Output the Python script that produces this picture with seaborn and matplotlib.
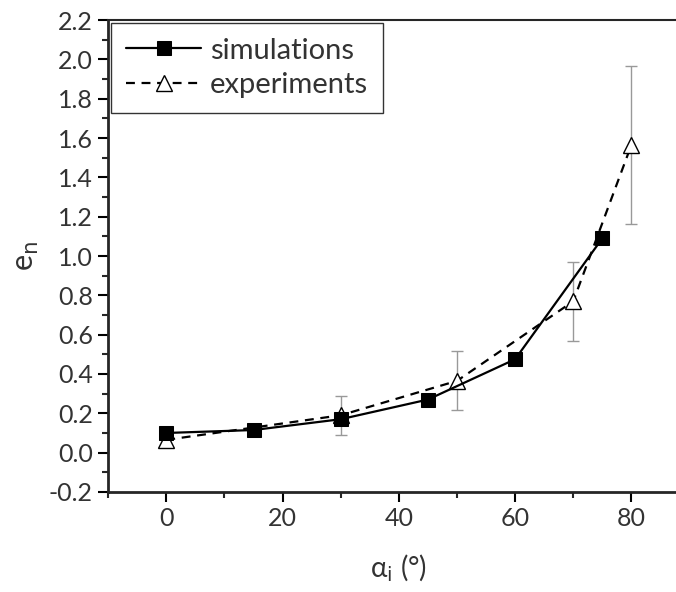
import matplotlib
import matplotlib.pyplot as plt
import pandas as pd
import seaborn as sns
from matplotlib.ticker import MultipleLocator

matplotlib.use("Agg")

# simulated data
sim_angle = [0, 15, 30, 45, 60, 75]
sim_en = [0.10, 0.115, 0.17, 0.27, 0.475, 1.09]

# experimental data with error bars
exp_angle = [0, 30, 50, 70, 80]
exp_en = [0.065, 0.19, 0.365, 0.77, 1.565]
exp_err = [0.03, 0.10, 0.15, 0.20, 0.40]

sim_df = pd.DataFrame({"angle": sim_angle, "en": sim_en})
exp_df = pd.DataFrame({"angle": exp_angle, "en": exp_en, "err": exp_err})

sns.set_theme(style="ticks")
plt.rcParams["font.family"] = ["Lato", "DejaVu Sans"]
plt.rcParams["font.size"] = 17

fig = plt.figure(figsize=(6.76, 5.92), dpi=100)
ax = fig.add_axes([0.160, 0.169, 0.860, 0.797])

ax.errorbar(exp_df["angle"], exp_df["en"], yerr=exp_df["err"], fmt="none",
            ecolor="#999999", elinewidth=1.0, capsize=4, capthick=1.0, zorder=1)

sns.lineplot(data=sim_df, x="angle", y="en", ax=ax, color="black", linewidth=1.6,
             marker="s", markersize=9.5, markerfacecolor="black",
             markeredgecolor="black", label="simulations", zorder=3)
sns.lineplot(data=exp_df, x="angle", y="en", ax=ax, color="black", linewidth=1.6,
             linestyle=(0, (4, 3)), marker="^", markersize=11,
             markerfacecolor="white", markeredgecolor="black",
             markeredgewidth=1.0, label="experiments", zorder=2)

ax.set_xlim(-10, 90)
ax.set_ylim(-0.2, 2.2)
ax.xaxis.set_major_locator(MultipleLocator(20))
ax.xaxis.set_minor_locator(MultipleLocator(10))
ax.yaxis.set_minor_locator(MultipleLocator(0.1))
ax.set_yticks([round(-0.2 + 0.2 * i, 1) for i in range(13)])
ax.set_yticklabels([f"{-0.2 + 0.2 * i:.1f}" for i in range(13)])

ax.tick_params(which="major", direction="out", length=7, width=1.5,
               labelsize=18, colors="black", labelcolor="#333333", pad=4)
ax.tick_params(which="minor", direction="out", length=4, width=1.5)
ax.tick_params(top=False, right=False, which="both")

for side in ["left", "bottom"]:
    ax.spines[side].set_linewidth(2.0)
ax.spines["top"].set_linewidth(1.5)
ax.spines["right"].set_linewidth(1.5)

ax.set_xlabel(r"α$_{\rm i}$ (°)", fontsize=20, color="#333333", labelpad=16)
ax.set_ylabel(r"e$_{\rm n}$", fontsize=22, color="#333333", labelpad=6)

leg = ax.legend(loc="upper left", fontsize=21, frameon=True, fancybox=False,
                edgecolor="black", handlelength=2.6, handletextpad=0.3,
                borderaxespad=0.1, borderpad=0.5, labelspacing=0.3)
leg.get_frame().set_linewidth(1.0)
for t in leg.get_texts():
    t.set_color("#333333")

fig.savefig("out.png", dpi=100)
